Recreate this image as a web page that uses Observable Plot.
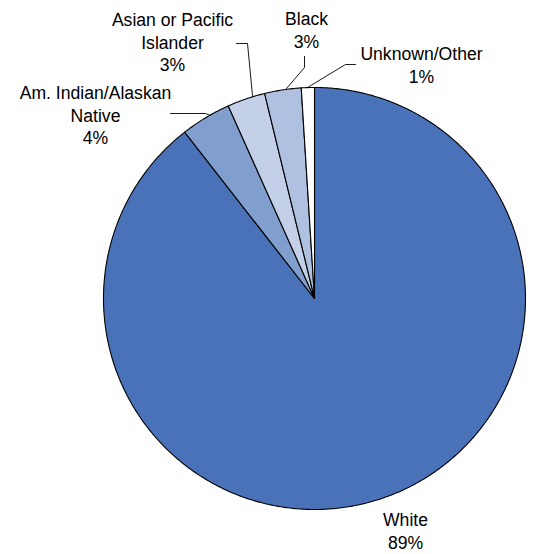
<!DOCTYPE html>
<html>
<head>
<meta charset="utf-8">
<script src="https://cdn.jsdelivr.net/npm/d3@7"></script>
<script src="https://cdn.jsdelivr.net/npm/@observablehq/plot@0.6"></script>
<style>
  html, body { margin: 0; padding: 0; background: #fff; }
  #chart svg { display: block; }
</style>
</head>
<body>
<div id="chart"></div>
<script>
// ---- Data ----
const categories = ["White", "Am. Indian/Alaskan Native", "Asian or Pacific Islander", "Black", "Unknown/Other"];
const labelNames = ["White", "Am. Indian/Alaskan\nNative", "Asian or Pacific\nIslander", "Black", "Unknown/Other"];
const values = [89.45, 3.85, 2.9, 2.8, 1.0];
const colors = ["#4a72b8", "#809fcf", "#c3d0e8", "#afc0e0", "#ffffff"];

// ---- Layout ----
const W = 533, H = 554;
const cx = 314, cy = 298, R = 211;
// label block centers (pixels)
const labelPos = [[405, 530], [95, 114], [172, 41], [306, 29], [421, 64]];
// leader lines (pixels)
const leaders = [
  null,
  [[170, 113], [205, 113], [210, 115]],
  [[236, 43], [247, 43], [252, 95]],
  [[304, 56], [304, 67], [286, 88]],
  [[355, 64], [345, 64], [307, 87]]
];

const total = d3.sum(values);
const slicePts = [];
let acc = 0;
values.forEach((v, i) => {
  const a0 = acc / total * 2 * Math.PI;
  acc += v;
  const a1 = acc / total * 2 * Math.PI;
  const n = Math.max(4, Math.ceil((a1 - a0) / (Math.PI / 360)));
  slicePts.push({key: categories[i], color: colors[i], x: cx, y: cy});
  for (let k = 0; k <= n; k++) {
    const a = a0 + (a1 - a0) * k / n;
    slicePts.push({key: categories[i], color: colors[i], x: cx + R * Math.sin(a), y: cy - R * Math.cos(a)});
  }
  slicePts.push({key: categories[i], color: colors[i], x: cx, y: cy});
});

const labels = categories.map((c, i) => ({
  text: labelNames[i] + "\n" + Math.round(values[i] / total * 100) + "%",
  x: labelPos[i][0], y: labelPos[i][1]
}));

const leaderPts = [];
leaders.forEach((l, i) => { if (l) l.forEach(p => leaderPts.push({key: categories[i], x: p[0], y: p[1]})); });

const chart = Plot.plot({
  width: W, height: H,
  margin: 0,
  x: {domain: [0, W], range: [0, W], axis: null},
  y: {domain: [0, H], range: [0, H], axis: null},
  color: {type: "identity"},
  style: {background: "#fff", fontFamily: "'Liberation Sans', Arial, sans-serif"},
  marks: [
    Plot.line(slicePts, {x: "x", y: "y", z: "key", fill: "color", stroke: "#000", strokeWidth: 1.1, strokeLinejoin: "round", curve: "linear"}),
    Plot.line(leaderPts, {x: "x", y: "y", z: "key", stroke: "#000", strokeWidth: 0.9}),
    Plot.text(labels, {x: "x", y: "y", text: "text", fontSize: 17.6, lineHeight: 1.28, fill: "#000", textAnchor: "middle", lineAnchor: "middle"})
  ]
});
document.getElementById("chart").appendChild(chart);
</script>
</body>
</html>
